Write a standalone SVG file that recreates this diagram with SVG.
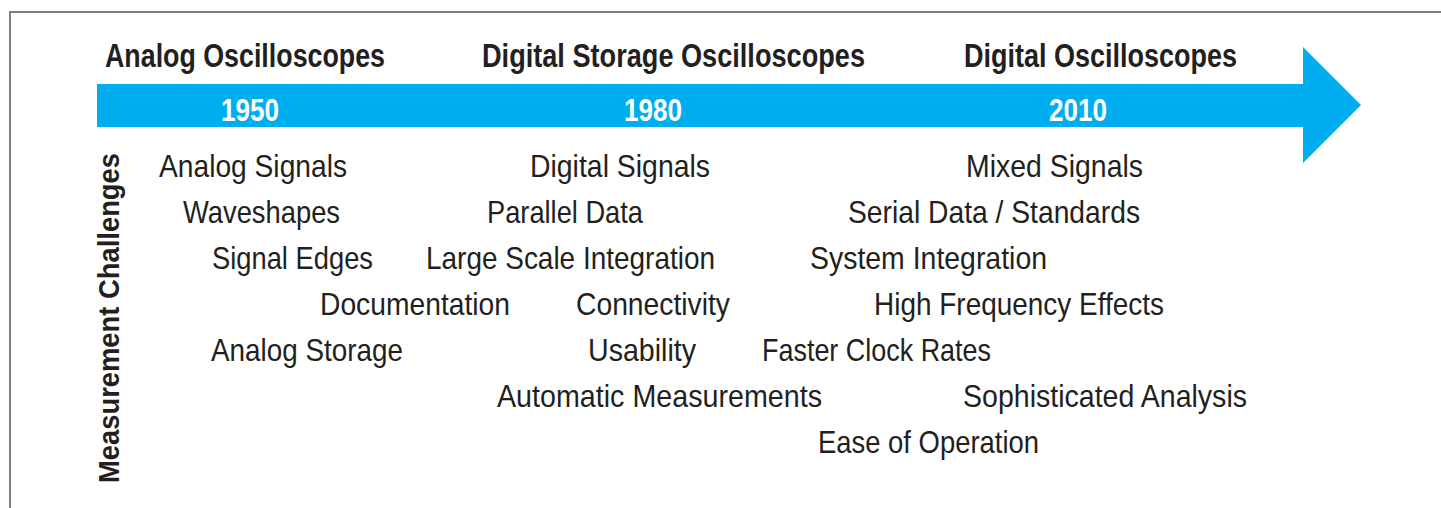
<svg xmlns="http://www.w3.org/2000/svg" width="1441" height="508" viewBox="0 0 1441 508">
<style>
.frame{fill:none;stroke:#808080;stroke-width:2}
.arrow{fill:#00aeef}
.head{font-family:"Liberation Sans",Arial,sans-serif;font-weight:bold;font-size:34px;fill:#231f20}
.year{font-family:"Liberation Sans",Arial,sans-serif;font-weight:bold;font-size:32px;fill:#ffffff}
.item{font-family:"Liberation Sans",Arial,sans-serif;font-size:32px;fill:#231f20}
.side{font-family:"Liberation Sans",Arial,sans-serif;font-weight:bold;font-size:30px;fill:#231f20}
</style>
<rect width="1441" height="508" fill="#ffffff"/>
<path class="frame" d="M10,508 V12 H1441"/>
<g id="timeline">
<polygon class="arrow" points="97,84 1303,84 1303,47 1361,105 1303,163 1303,127 97,127"/>
<text class="year" x="221" y="120.5" textLength="58" lengthAdjust="spacingAndGlyphs">1950</text>
<text class="year" x="624" y="120.5" textLength="58" lengthAdjust="spacingAndGlyphs">1980</text>
<text class="year" x="1049" y="120.5" textLength="58" lengthAdjust="spacingAndGlyphs">2010</text>
</g>
<g id="headings">
<text class="head" x="105" y="66.5" textLength="280" lengthAdjust="spacingAndGlyphs">Analog Oscilloscopes</text>
<text class="head" x="482" y="66.5" textLength="383" lengthAdjust="spacingAndGlyphs">Digital Storage Oscilloscopes</text>
<text class="head" x="964" y="66.5" textLength="273" lengthAdjust="spacingAndGlyphs">Digital Oscilloscopes</text>
</g>
<g id="side-label">
<text class="side" transform="translate(119,483) rotate(-90)" x="0" y="0" textLength="330" lengthAdjust="spacingAndGlyphs">Measurement Challenges</text>
</g>
<g id="analog-challenges">
<text class="item" x="159" y="177" textLength="188" lengthAdjust="spacingAndGlyphs">Analog Signals</text>
<text class="item" x="183" y="223" textLength="157" lengthAdjust="spacingAndGlyphs">Waveshapes</text>
<text class="item" x="212" y="269" textLength="161" lengthAdjust="spacingAndGlyphs">Signal Edges</text>
<text class="item" x="320" y="315" textLength="190" lengthAdjust="spacingAndGlyphs">Documentation</text>
<text class="item" x="211" y="361" textLength="192" lengthAdjust="spacingAndGlyphs">Analog Storage</text>
</g>
<g id="dso-challenges">
<text class="item" x="530" y="177" textLength="180" lengthAdjust="spacingAndGlyphs">Digital Signals</text>
<text class="item" x="487" y="223" textLength="156" lengthAdjust="spacingAndGlyphs">Parallel Data</text>
<text class="item" x="426" y="269" textLength="289" lengthAdjust="spacingAndGlyphs">Large Scale Integration</text>
<text class="item" x="576" y="315" textLength="154" lengthAdjust="spacingAndGlyphs">Connectivity</text>
<text class="item" x="588" y="361" textLength="108" lengthAdjust="spacingAndGlyphs">Usability</text>
<text class="item" x="497" y="407" textLength="325" lengthAdjust="spacingAndGlyphs">Automatic Measurements</text>
</g>
<g id="digital-challenges">
<text class="item" x="966" y="177" textLength="177" lengthAdjust="spacingAndGlyphs">Mixed Signals</text>
<text class="item" x="848" y="223" textLength="292" lengthAdjust="spacingAndGlyphs">Serial Data / Standards</text>
<text class="item" x="810" y="269" textLength="237" lengthAdjust="spacingAndGlyphs">System Integration</text>
<text class="item" x="874" y="315" textLength="290" lengthAdjust="spacingAndGlyphs">High Frequency Effects</text>
<text class="item" x="762" y="361" textLength="229" lengthAdjust="spacingAndGlyphs">Faster Clock Rates</text>
<text class="item" x="963" y="407" textLength="284" lengthAdjust="spacingAndGlyphs">Sophisticated Analysis</text>
<text class="item" x="818" y="453" textLength="221" lengthAdjust="spacingAndGlyphs">Ease of Operation</text>
</g>
</svg>
